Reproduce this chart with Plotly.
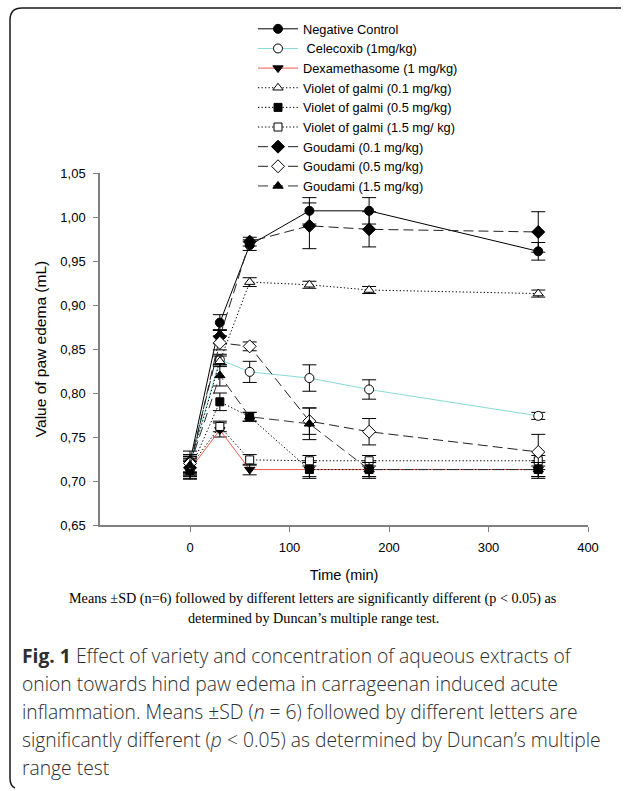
import plotly.graph_objects as go

# ---------------- data ----------------
time_min = [0, 30, 60, 120, 180, 350]

series_names = [
    "Negative Control",
    " Celecoxib (1mg/kg)",
    "Dexamethasome (1 mg/kg)",
    "Violet of galmi (0.1 mg/kg)",
    "Violet of galmi (0.5 mg/kg)",
    "Violet of galmi (1.5 mg/ kg)",
    "Goudami (0.1 mg/kg)",
    "Goudami (0.5 mg/kg)",
    "Goudami (1.5 mg/kg)",
]

neg_control = [0.722, 0.880, 0.968, 1.007, 1.007, 0.961]
neg_control_sd = [0.012, 0.009, 0.006, 0.015, 0.015, 0.010]

celecoxib = [0.720, 0.838, 0.824, 0.817, 0.804, 0.774]
celecoxib_sd = [0.010, 0.006, 0.012, 0.015, 0.011, 0.004]

dexamethasone = [0.713, 0.758, 0.713, 0.713, 0.713, 0.713]
dexamethasone_sd = [0.010, 0.008, 0.006, 0.010, 0.010, 0.010]

violet_01 = [0.718, 0.836, 0.926, 0.923, 0.917, 0.913]
violet_01_sd = [0.010, 0.006, 0.005, 0.004, 0.004, 0.004]

violet_05 = [0.712, 0.790, 0.773, 0.713, 0.713, 0.713]
violet_05_sd = [0.010, 0.010, 0.005, 0.008, 0.008, 0.008]

violet_15 = [0.716, 0.762, 0.724, 0.723, 0.723, 0.723]
violet_15_sd = [0.010, 0.006, 0.006, 0.006, 0.006, 0.006]

goudami_01 = [0.715, 0.864, 0.972, 0.990, 0.986, 0.983]
goudami_01_sd = [0.010, 0.008, 0.005, 0.026, 0.020, 0.023]

goudami_05 = [0.720, 0.857, 0.853, 0.768, 0.756, 0.733]
goudami_05_sd = [0.010, 0.008, 0.005, 0.015, 0.015, 0.020]

goudami_15 = [0.718, 0.820, 0.773, 0.765, 0.713, 0.713]
goudami_15_sd = [0.010, 0.012, 0.005, 0.018, 0.008, 0.008]

y_ticks = [0.65, 0.70, 0.75, 0.80, 0.85, 0.90, 0.95, 1.00, 1.05]
x_ticks = [0, 100, 200, 300, 400]

# ---------------- styles ----------------
W, H = 627, 791
ML, MR, MT, MB = 100, 39, 173, 266
FONT = "Liberation Sans"

DOT = "1.3px,2.2px"
DASH = "10px,5px"
styles = [
    dict(color="black", dash="solid", symbol="circle", fill="black"),
    dict(color="#86d9d6", dash="solid", symbol="circle", fill="white"),
    dict(color="#ee5b4c", dash="solid", symbol="triangle-down", fill="black"),
    dict(color="black", dash=DOT, symbol="triangle-up", fill="white"),
    dict(color="black", dash=DOT, symbol="square", fill="black"),
    dict(color="black", dash=DOT, symbol="square", fill="white"),
    dict(color="#222222", dash=DASH, symbol="diamond", fill="black"),
    dict(color="#222222", dash=DASH, symbol="diamond", fill="white"),
    dict(color="#333333", dash=DASH, symbol="triangle-up", fill="black"),
]
values = [neg_control, celecoxib, dexamethasone, violet_01, violet_05,
          violet_15, goudami_01, goudami_05, goudami_15]
sds = [neg_control_sd, celecoxib_sd, dexamethasone_sd, violet_01_sd,
       violet_05_sd, violet_15_sd, goudami_01_sd, goudami_05_sd, goudami_15_sd]
sizes = [9, 9, 9, 9, 8, 8, 10, 10, 9]

fig = go.Figure()
for name, vals, sd, st, sz in zip(series_names, values, sds, styles, sizes):
    fig.add_trace(go.Scatter(
        x=time_min, y=vals, name=name, mode="lines+markers",
        line=dict(color=st["color"], dash=st["dash"], width=1),
        marker=dict(symbol=st["symbol"], size=sz, color=st["fill"],
                    line=dict(color="black", width=1)),
        error_y=dict(type="data", array=sd, visible=True, color="black",
                     thickness=1, width=7),
    ))


def px(x):
    return (x - ML) / (W - ML - MR)


def py(y):
    return (H - MB - y) / (H - MT - MB)


# frame path (pixel -> paper)
pts = [("M", 621, 8), ("L", 22, 8), ("Q", 10, 8, 10, 20), ("L", 10, 778),
       ("Q", 10, 786, 15, 788)]
path = ""
for p in pts:
    if p[0] == "Q":
        path += f"Q {px(p[1]):.5f},{py(p[2]):.5f} {px(p[3]):.5f},{py(p[4]):.5f} "
    else:
        path += f"{p[0]} {px(p[1]):.5f},{py(p[2]):.5f} "
fig.add_shape(type="path", path=path, xref="paper", yref="paper",
              line=dict(color="#1a1a1a", width=1.5))

annotations = []
serif = "Liberation Serif"
for txt, y in [("Means ±SD (n=6) followed by different letters are significantly different (p &lt; 0.05) as", 598),
               ("determined by Duncan’s multiple range test.", 618)]:
    annotations.append(dict(text=txt, x=px(313), y=py(y), xref="paper", yref="paper",
                            xanchor="center", yanchor="middle", showarrow=False,
                            font=dict(family=serif, size=14.2, color="black")))

cap_font = "Open Sans"
cap_lines = [
    "<b>Fig. 1</b> Effect of variety and concentration of aqueous extracts of",
    "onion towards hind paw edema in carrageenan induced acute",
    "inflammation. Means ±SD (<i>n</i> = 6) followed by different letters are",
    "significantly different (<i>p</i> &lt; 0.05) as determined by Duncan’s multiple",
    "range test",
]
for i, line in enumerate(cap_lines):
    annotations.append(dict(text=line, x=px(20), y=py(655 + 28 * i), xref="paper", yref="paper",
                            xanchor="left", yanchor="middle", showarrow=False,
                            font=dict(family=cap_font, size=19.3, color="#2e2e2e", weight=300)))

axis_col = "#808080"
fig.update_layout(
    width=W, height=H,
    margin=dict(l=ML, r=MR, t=MT, b=MB),
    paper_bgcolor="white", plot_bgcolor="white",
    separators=",.",
    font=dict(family=FONT, color="black", size=13),
    showlegend=True,
    legend=dict(x=px(253), y=py(14), xanchor="left", yanchor="top",
                bgcolor="rgba(0,0,0,0)", font=dict(family=FONT, size=12.8, color="black"),
                itemwidth=40, tracegroupgap=0),
    annotations=annotations,
    xaxis=dict(range=[-90.45, 400], tickvals=x_ticks, showgrid=False, zeroline=False,
               showline=True, linecolor=axis_col, linewidth=1.5, ticks="outside",
               ticklen=5, tickcolor=axis_col, tickfont=dict(size=13), ticklabelstandoff=5,
               title=dict(text="Time (min)", font=dict(size=14.5), standoff=16)),
    yaxis=dict(range=[0.65, 1.05], tickvals=y_ticks, tickformat=".2f", showgrid=False,
               zeroline=False, showline=True, linecolor=axis_col, linewidth=1.5,
               ticks="outside", ticklen=5, tickcolor=axis_col, tickfont=dict(size=13),
               ticklabelstandoff=5,
               title=dict(text="Value of paw edema (mL)", font=dict(size=15.5), standoff=10)),
)

fig.write_html("out.html", config={"displayModeBar": False},
               post_script="document.body.style.margin='0';document.body.style.overflow='hidden';")
